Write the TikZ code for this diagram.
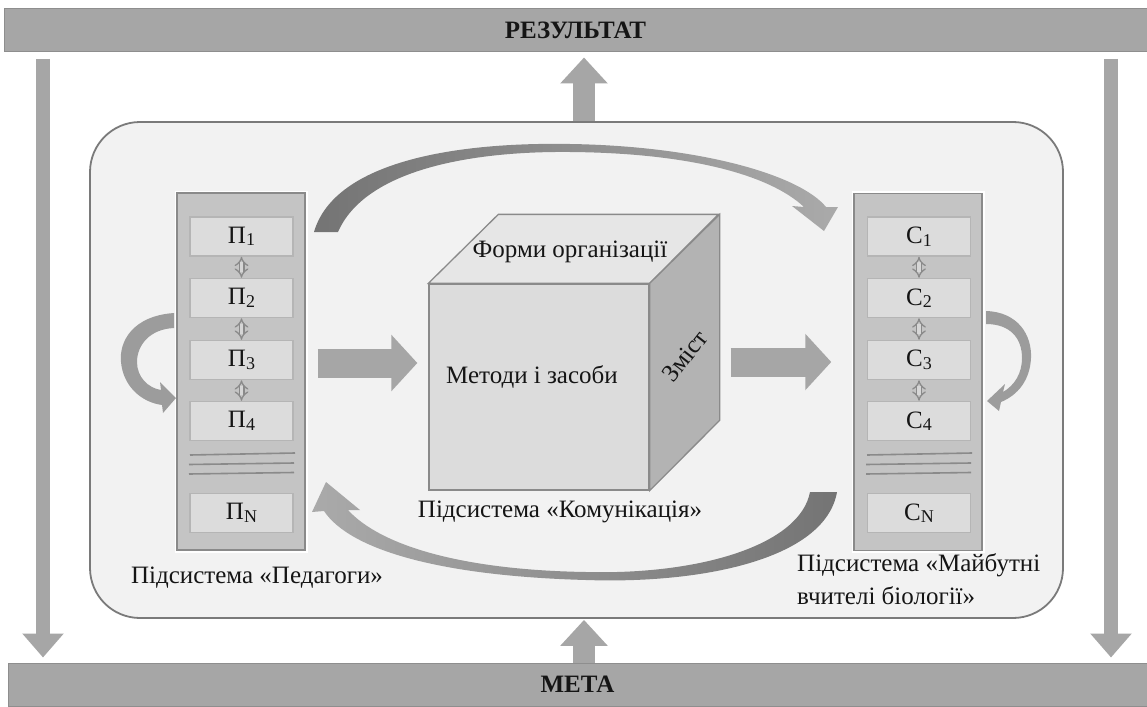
\documentclass[tikz,border=0pt]{standalone}
\usepackage{fontspec}
\setmainfont{Liberation Serif}
\usetikzlibrary{arrows.meta,calc}

\definecolor{bargray}{HTML}{A6A6A6}
\definecolor{barline}{HTML}{8E8E8E}
\definecolor{panelfill}{HTML}{F2F2F2}
\definecolor{panelline}{HTML}{7A7A7A}
\definecolor{colfill}{HTML}{C4C4C4}
\definecolor{colline}{HTML}{8A8A8A}
\definecolor{cellfill}{HTML}{DCDCDC}
\definecolor{cellline}{HTML}{B5B5B5}
\definecolor{inkgray}{HTML}{151515}
\definecolor{topface}{HTML}{E6E6E6}
\definecolor{sideface}{HTML}{B3B3B3}
\definecolor{arcdark}{HTML}{747474}
\definecolor{arclight}{HTML}{AAAAAA}
\definecolor{loopgray}{HTML}{9C9C9C}

\newcommand\lowidx[1]{\raisebox{-0.1em}{\fontsize{18}{18}\selectfont #1}}

\tikzset{
  txt/.style={font=\fontsize{25}{30}\selectfont, text=inkgray, inner sep=0pt},
  bar/.style={fill=bargray, draw=barline, line width=1pt, inner sep=0pt,
    font=\fontsize{25}{30}\selectfont\bfseries, text=inkgray},
  panel/.style={fill=panelfill, draw=panelline, line width=1.8pt,
    rounded corners=50pt, minimum width=973pt, minimum height=496pt},
  column/.style={fill=colfill, draw=colline, line width=1.5pt,
    preaction={draw=white, line width=5pt},
    minimum width=128pt, minimum height=357pt},
  cell/.style={fill=cellfill, draw=cellline, line width=1.5pt,
    minimum width=103pt, minimum height=39pt, inner sep=0pt,
    font=\fontsize{25}{30}\selectfont, text=inkgray},
  link/.style={draw=colline, double=colfill!70!white, double distance=3.4pt,
    line width=1.3pt, {Implies[length=5pt]}-{Implies[length=5pt]}},
  sepline/.style={draw=colline, line width=1.6pt},
  face/.style={draw=colline, line width=1.3pt},
  blockarrow/.style={draw=bargray, line width=29pt,
    -{Triangle[length=26pt,width=55pt]}},
  uparrow/.style={draw=bargray, line width=22pt,
    -{Triangle[length=26pt,width=46pt]}},
  sidearrow/.style={draw=bargray, line width=14pt,
    -{Triangle[length=24pt,width=40pt]}},
}

\begin{document}
\begin{tikzpicture}[x=1pt,y=-1pt]
\useasboundingbox (0,0) rectangle (1147,706);
\fill[white] (0,0) rectangle (1147,706);

% result and goal bars
\node[bar, minimum width=1143pt, minimum height=43pt] (res) at (575.5,30.5) {РЕЗУЛЬТАТ};
\node[bar, minimum width=1139pt, minimum height=43pt] (meta) at (577.5,684.5) {МЕТА};

% outer side arrows from result to goal
\coordinate (ltop) at (43,59);
\coordinate (rtop) at (1111,59);
\draw[sidearrow, shorten >=5pt] (ltop) -- (ltop |- meta.north);
\draw[sidearrow, shorten >=5pt] (rtop) -- (rtop |- meta.north);

% system panel
\node[panel] (sys) at (576.5,370) {};

% arrows between panel and bars
\coordinate (mid) at (584,370);
\draw[uparrow, shorten >=5pt] (mid |- sys.north) -- (mid |- res.south);
\draw[uparrow, shorten >=1pt] (mid |- meta.north) -- (mid |- sys.south);

% left column: teachers
\node[column] (colL) at (241,371.5) {};
\node[cell] (p1) at (241.5,236.5) {П\lowidx{1}};
\node[cell] (p2) at (241.5,298) {П\lowidx{2}};
\node[cell] (p3) at (241.5,360) {П\lowidx{3}};
\node[cell] (p4) at (241.5,421) {П\lowidx{4}};
\node[cell] (pn) at (241.5,513) {П\lowidx{N}};
\draw[link] (p1) -- (p2);
\draw[link] (p2) -- (p3);
\draw[link] (p3) -- (p4);
\draw[sepline] (190,455) -- (295,453);
\draw[sepline] (189,464.5) -- (294,463);
\draw[sepline] (189,474) -- (294,472.5);

% right column: future biology teachers
\node[column] (colR) at (918,372) {};
\node[cell] (c1) at (919,236.5) {С\lowidx{1}};
\node[cell] (c2) at (919,298) {С\lowidx{2}};
\node[cell] (c3) at (919,360) {С\lowidx{3}};
\node[cell] (c4) at (919,421) {С\lowidx{4}};
\node[cell] (cn) at (919,513) {С\lowidx{N}};
\draw[link] (c1) -- (c2);
\draw[link] (c2) -- (c3);
\draw[link] (c3) -- (c4);
\draw[sepline] (867,455) -- (972,453);
\draw[sepline] (866,464.5) -- (971,463);
\draw[sepline] (866,474) -- (971,472.5);

% communication cube
\node[face, fill=cellfill, minimum width=220pt, minimum height=206pt] (front) at (539,387) {};
\draw[face, fill=topface] (front.north west) -- ++(70,-69) -- ++(220,0) -- (front.north east) -- cycle;
\draw[face, fill=sideface] (front.north east) -- ++(70,-69) -- ++(0,206) -- (front.south east) -- cycle;
\coordinate (cubeR) at ($(front.east)+(70,0)$);

\node[txt] (forms) at (570,252) {Форми організації};
\node[txt] (methods) at (532,377) {Методи і засоби};
\node[txt, rotate=52] (content) at (685,356) {Зміст};
\node[txt] (komm) at (560,512) {Підсистема «Комунікація»};
\node[txt] (ped) at (257,578) {Підсистема «Педагоги»};
\node[txt, align=left, anchor=north west, font=\fontsize{25}{33}\selectfont] (stud) at (797,553)
  {Підсистема «Майбутні\\вчителі біології»};

% straight arrows through the cube
\draw[blockarrow, shorten <=12pt, shorten >=11pt] ($(colL.east)+(0,-8.5)$) -- ($(front.west |- colL.east)+(0,-8.5)$);
\draw[blockarrow, shorten <=11pt, shorten >=22pt] ($(cubeR |- colR.west)+(0,-10)$) -- ($(colR.west)+(0,-10)$);

% curved arrow over the cube
\shade[left color=arcdark, right color=arclight]
  (314,232) .. controls (335,160) and (460,142) .. (570,144)
  .. controls (700,146) and (800,175) .. (826,207)
  -- (838,207) -- (824,231) -- (792,206) -- (804,207)
  .. controls (770,175) and (690,153) .. (570,152)
  .. controls (470,151) and (365,170) .. (338,232) -- cycle;

% curved arrow under the cube
\shade[left color=arclight, right color=arcdark]
  (837,492) .. controls (825,560) and (700,584) .. (586,580)
  .. controls (440,576) and (350,550) .. (324,511)
  -- (312,512) -- (326,482) -- (360,510) -- (348,510)
  .. controls (380,545) and (460,570) .. (586,572)
  .. controls (700,575) and (800,545) .. (810,492) -- cycle;

% loop beside the teachers column
\fill[loopgray]
  (174,313) .. controls (132,316) and (119,342) .. (121,362)
  .. controls (123,385) and (140,402) .. (162,405)
  -- (163,413) -- (176,398) -- (160,382) -- (161,390)
  .. controls (148,388) and (137,377) .. (137,362)
  .. controls (137,345) and (150,329) .. (174,328) -- cycle;

% loop beside the students column
\fill[loopgray]
  (986,311) .. controls (1018,312) and (1032,335) .. (1031,358)
  .. controls (1030,380) and (1018,395) .. (1001,402)
  -- (999,411) -- (987,401) -- (1005,384) -- (1003,392)
  .. controls (1015,385) and (1022,373) .. (1022,358)
  .. controls (1022,338) and (1010,324) .. (986,324) -- cycle;
\end{tikzpicture}
\end{document}
